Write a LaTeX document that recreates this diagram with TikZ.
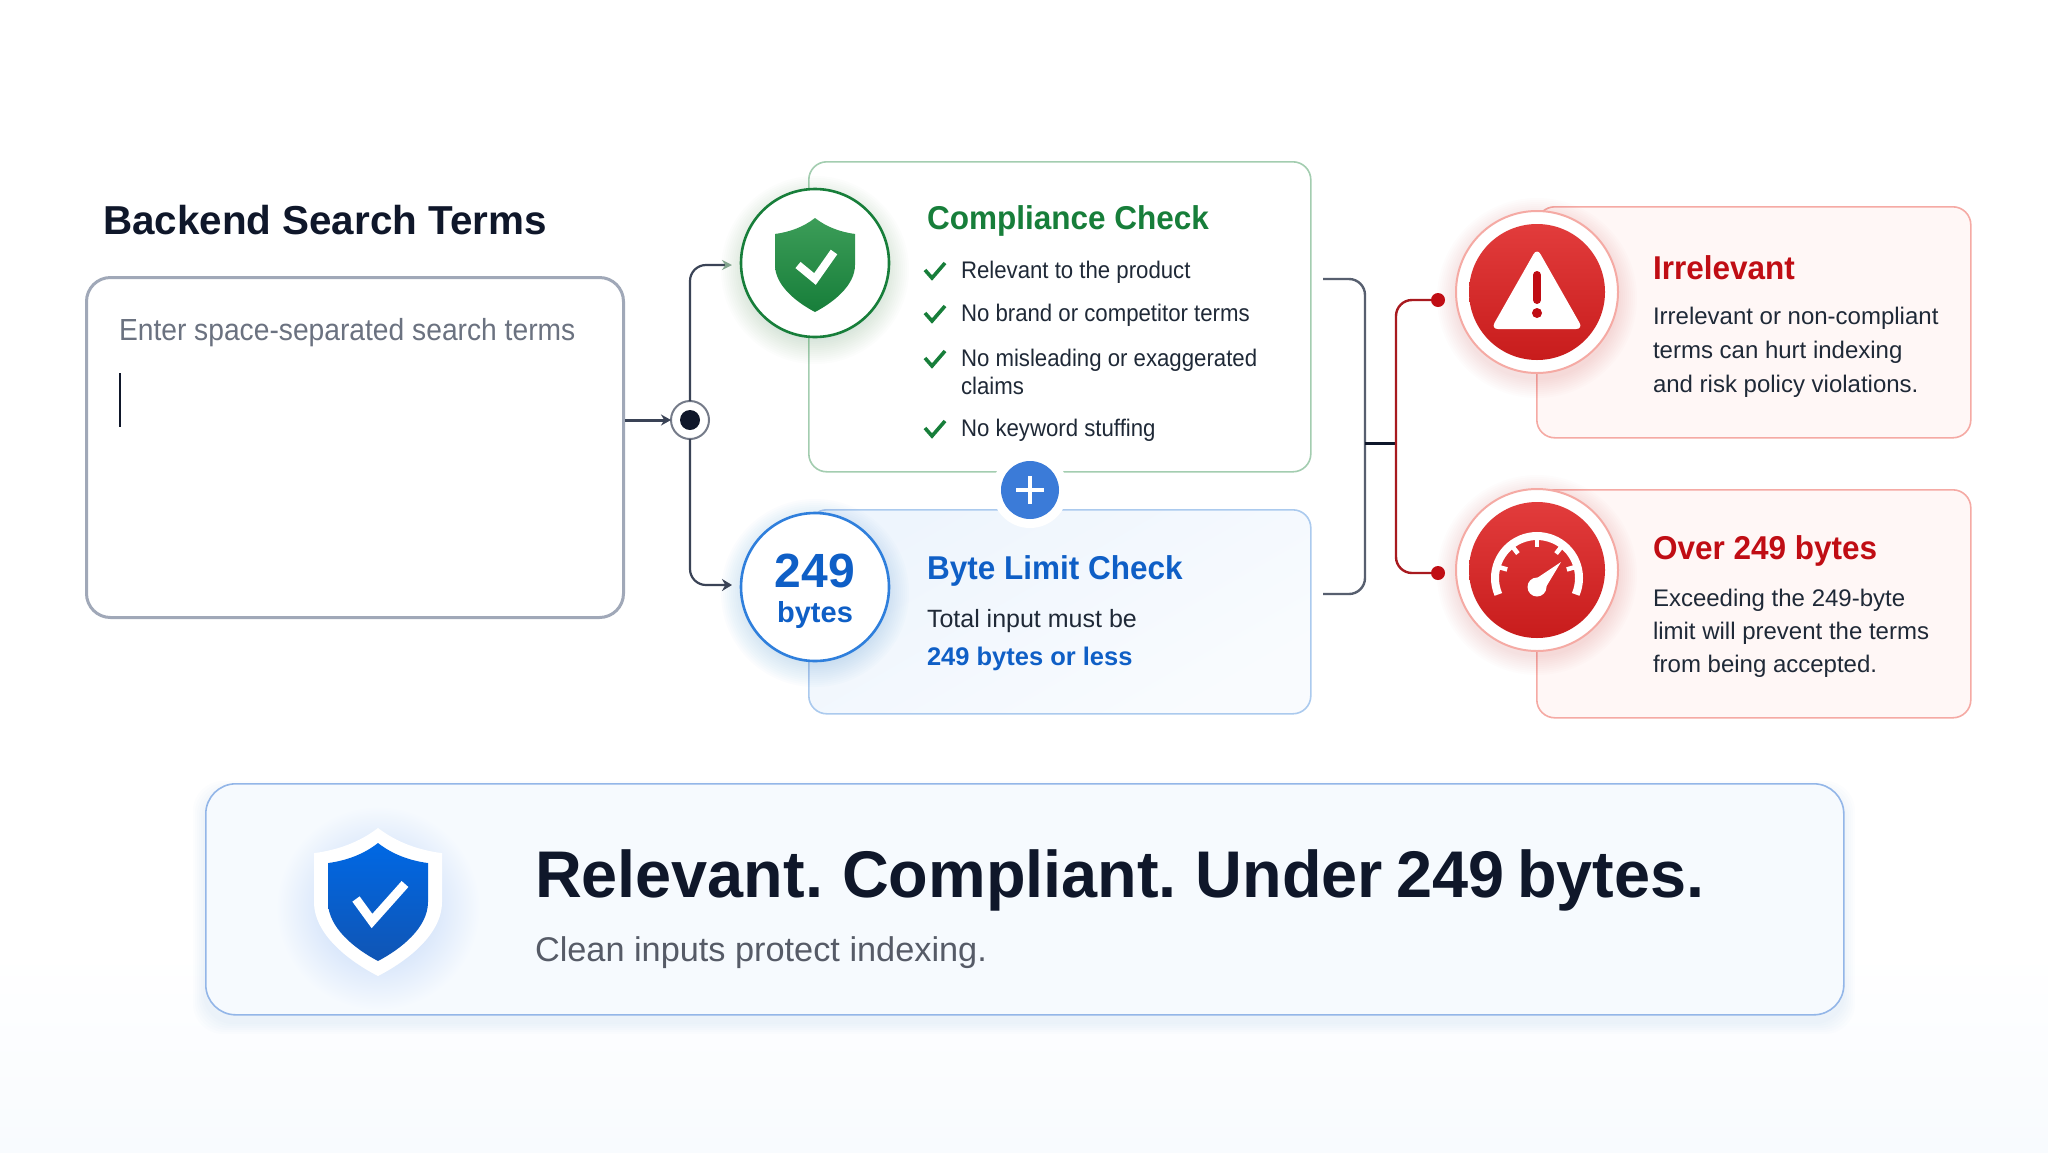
\documentclass[tikz,border=0pt]{standalone}
\usepackage{fontspec}
\setmainfont{Liberation Sans}
\newfontfamily\headfont[FakeStretch=.955]{Liberation Sans}
\newfontfamily\narrowfont[FakeStretch=.925]{Liberation Sans}
\newfontfamily\sloganfont[FakeStretch=.982, WordSpace=.72]{Liberation Sans}
\usetikzlibrary{arrows.meta}

\definecolor{inkdark}{HTML}{0F172A}
\definecolor{inputgray}{HTML}{A0A8B8}
\definecolor{hintgray}{HTML}{6B7280}
\definecolor{wiregray}{HTML}{3A4356}
\definecolor{bodyink}{HTML}{1F2937}
\definecolor{okgreen}{HTML}{177E3A}
\definecolor{okline}{HTML}{A3CDB0}
\definecolor{okfill}{HTML}{3C9D58}
\definecolor{limitblue}{HTML}{0F5FC6}
\definecolor{limitline}{HTML}{ABCAEE}
\definecolor{limitfill}{HTML}{EEF5FD}
\definecolor{ringblue}{HTML}{2F7FDC}
\definecolor{plusblue}{HTML}{3B7BD8}
\definecolor{errred}{HTML}{C00D14}
\definecolor{errline}{HTML}{F5AAA4}
\definecolor{errfill}{HTML}{FFF7F6}
\definecolor{errtop}{HTML}{E23C3C}
\definecolor{errbot}{HTML}{C81C1C}
\definecolor{wirered}{HTML}{A81A1F}
\definecolor{bannerline}{HTML}{93B6E8}
\definecolor{bannerfill}{HTML}{F6FAFE}
\definecolor{bannerglow}{HTML}{B9D1F7}
\definecolor{floorfill}{HTML}{F8FBFE}
\definecolor{shieldtop}{HTML}{0068E4}
\definecolor{shieldbot}{HTML}{1055B4}

\tikzset{
    lbl/.style={anchor=base west, inner sep=0pt, outer sep=0pt},
    bodytxt/.style={lbl, font=\fontsize{24}{24}\selectfont, text=bodyink},
    listtxt/.style={lbl, font=\fontsize{24}{24}\narrowfont, text=bodyink},
    cardhead/.style={lbl, font=\fontsize{33}{33}\headfont\bfseries},
    card/.style={anchor=north west, draw, line width=1.6pt, rounded corners=18pt, inner sep=0pt},
    tickmark/.style={okgreen, line width=3.6pt, line join=miter},
    whitetick/.style={white, line width=8pt, line join=miter},
    wire/.style={wiregray, line width=2.2pt, rounded corners=16pt},
    redwire/.style={wirered, line width=2.4pt, rounded corners=16pt},
    disc/.style={circle, inner sep=0pt, outer sep=0pt, fill=white},
    gaugeline/.style={white, line width=8pt}
}

% shield outline, top point at origin, half width 1, height 1
\def\shieldpath{(0,0) .. controls (-.3,.1) and (-.65,.15) .. (-1,.17) -- (-1,.5)
    .. controls (-1,.72) and (-.45,.9) .. (0,1) .. controls (.45,.9) and (1,.72) .. (1,.5)
    -- (1,.17) .. controls (.65,.15) and (.3,.1) .. (0,0) -- cycle}
\newcommand{\softglow}[5]{\foreach \d in {2,4,...,#3} \fill[#4, opacity=#5] (#1) circle ({#2+\d});}

\begin{document}
\begin{tikzpicture}[x=1pt, y=-1pt, >=stealth]
    \useasboundingbox (0,0) rectangle (2048,1152);
    \fill[white] (0,0) rectangle (2048,1152);
    \shade[top color=white, bottom color=floorfill] (0,950) rectangle (2048,1152);

    % input box
    \node[lbl, font=\fontsize{40.4}{40}\selectfont\bfseries, text=inkdark] (title) at (103,234) {Backend Search Terms};
    \node[card, draw=inputgray, line width=3pt, rounded corners=24pt, fill=white, minimum width=537pt, minimum height=340pt] (inputbox) at (85,276) {};
    \node[lbl, font=\fontsize{30.5}{30.5}\narrowfont, text=hintgray] (hint) at (119,340) {Enter space-separated search terms};
    \coordinate (cursortop) at (120,373);
    \coordinate (cursorend) at (120,427);
    \draw[inkdark, line width=1.6pt] (cursortop) -- (cursorend);

    % compliance card
    \node[card, draw=okline, fill=white, minimum width=502pt, minimum height=310pt] (compcard) at (808,161) {};
    \softglow{815,270}{68}{26}{okgreen}{.012}
    \node[disc, draw=okgreen, line width=2.6pt, minimum size=148pt] (compdisc) at (815,263) {};
    \begin{scope}[shift={(815,218)}, x=40pt, y=-94pt]
        \shade[top color=okfill, bottom color=okgreen] \shieldpath;
    \end{scope}
    \coordinate (oka) at (798,265);
    \coordinate (okb) at (815,279);
    \coordinate (okc) at (834,252);
    \draw[whitetick] (oka) -- (okb) -- (okc);
    \node[cardhead, text=okgreen] (comphead) at (927,229) {Compliance Check};
    \foreach \rowy/\rowtxt in {278/Relevant to the product, 321/No brand or competitor terms, 366/No misleading or exaggerated, 436/No keyword stuffing} {
        \draw[tickmark] (925,\rowy-8) -- (932,\rowy) -- (945,\rowy-15);
        \node[listtxt] at (961,\rowy) {\rowtxt};
    }
    \node[listtxt] (claims) at (961,394) {claims};

    % byte card
    \node[card, draw=limitline, left color=limitfill, right color=limitfill!35!white, shading angle=30, minimum width=502pt, minimum height=204pt] (bytecard) at (808,509) {};
    \softglow{815,593}{68}{26}{ringblue}{.016}
    \node[disc, draw=ringblue, line width=2.6pt, minimum size=148pt] (bytedisc) at (815,587) {};
    \node[anchor=base, inner sep=0pt, font=\fontsize{48}{48}\selectfont\bfseries, text=limitblue] (bignum) at (815,587) {249};
    \node[anchor=base, inner sep=0pt, font=\fontsize{29}{29}\selectfont\bfseries, text=limitblue] (bignumunit) at (815,622) {bytes};
    \node[cardhead, text=limitblue] (bytehead) at (927,579) {Byte Limit Check};
    \node[lbl, font=\fontsize{25}{25}\selectfont, text=bodyink] (byteline) at (927,627) {Total input must be};
    \node[lbl, font=\fontsize{25.5}{25.5}\selectfont\bfseries, text=limitblue] (bytebold) at (927,665) {249 bytes or less};

    % plus
    \node[disc, minimum size=76pt] (plushalo) at (1030,490) {};
    \node[disc, fill=plusblue, minimum size=58pt] (plusbtn) at (1030,490) {};
    \draw[white, line width=4pt] (plusbtn.center) ++(-14,0) -- ++(28,0);
    \draw[white, line width=4pt] (plusbtn.center) ++(0,-14) -- ++(0,28);

    % junction and wires
    \node[disc, draw=wiregray!70!white, line width=2pt, minimum size=38pt] (junction) at (690,420) {};
    \fill[inkdark] (junction) circle (10);
    \coordinate (compin) at (732,265);
    \coordinate (bytein) at (732,585);
    \draw[wire, line width=3pt, -{Stealth[length=10pt, width=11pt]}] (inputbox.east |- junction) -- (junction.west);
    \draw[wire, -{Stealth[length=10pt, width=10pt, color=okline!80!black]}] (junction.north) |- (compin);
    \draw[wire, -{Stealth[length=10pt, width=12pt]}] (junction.south) |- (bytein);

    % bracket
    \coordinate (brtop) at (1323,279);
    \coordinate (brbot) at (1323,594);
    \coordinate (brmid) at (1365,443);
    \coordinate (spine) at (1396,443);
    \draw[wire, wiregray!85!white, line width=2.4pt] (brtop) -| (brmid |- brbot) -- (brbot);
    \draw[wire, inkdark, line width=3pt] (brmid) -- (spine);

    % irrelevant card
    \node[card, draw=errline, fill=errfill, minimum width=434pt, minimum height=231pt] (badcard) at (1536,206) {};
    \softglow{1537,298}{80}{20}{errred}{.01}
    \node[disc, draw=errline, line width=2pt, minimum size=162pt] (baddisc) at (1537,292) {};
    \node[disc, top color=errtop, bottom color=errbot, minimum size=136pt] (badcore) at (1537,292) {};
    \fill[white, rounded corners=7pt] (1537,248) -- (1583,329) -- (1491,329) -- cycle;
    \draw[errred, line width=8pt, line cap=round] (1537,275) -- (1537,300);
    \fill[errred] (1537,313) circle (5);
    \node[cardhead, text=errred] (badhead) at (1653,279) {Irrelevant};
    \node[bodytxt] (badone) at (1653,324) {Irrelevant or non-compliant};
    \node[bodytxt] (badtwo) at (1653,358) {terms can hurt indexing};
    \node[bodytxt] (badthree) at (1653,392) {and risk policy violations.};

    % over limit card
    \node[card, draw=errline, fill=errfill, minimum width=434pt, minimum height=228pt] (overcard) at (1536,489) {};
    \softglow{1537,575}{80}{20}{errred}{.01}
    \node[disc, draw=errline, line width=2pt, minimum size=162pt] (overdisc) at (1537,570) {};
    \node[disc, top color=errtop, bottom color=errbot, minimum size=136pt] (overcore) at (1537,570) {};
    \begin{scope}[shift={(1537,578)}, x=1pt, y=1pt]
        \draw[gaugeline] (203:42) arc (203:-23:42);
        \foreach \a in {164,128,90,52,16} \draw[white, line width=4.5pt] (\a:42) -- (\a:31);
        \fill[white] (-6,-4) -- (24,16) -- (6,-14) -- cycle;
        \fill[white] (0,-9) circle (9.5);
    \end{scope}
    \node[cardhead, text=errred] (overhead) at (1653,559) {Over 249 bytes};
    \node[bodytxt] (overone) at (1653,606) {Exceeding the 249-byte};
    \node[bodytxt] (overtwo) at (1653,639) {limit will prevent the terms};
    \node[bodytxt] (overthree) at (1653,672) {from being accepted.};

    % red wires
    \node[disc, fill=errred, minimum size=14pt] (baddot) at (1438,300) {};
    \node[disc, fill=errred, minimum size=14pt] (overdot) at (1438,573) {};
    \draw[redwire] (baddot) -| (spine) |- (overdot);

    % banner
    \foreach \d in {2,4,...,12} \fill[ringblue, opacity=.01, rounded corners=30pt] (205-\d,783-\d+10) rectangle (1843+\d,1014+\d+8);
    \node[card, draw=bannerline, fill=bannerfill, rounded corners=30pt, minimum width=1638pt, minimum height=231pt] (banner) at (205,783) {};
    \shade[inner color=bannerglow, outer color=bannerfill] (378,908) circle (102);
    \begin{scope}[shift={(378,828)}, x=64pt, y=-148pt]
        \fill[white] \shieldpath;
    \end{scope}
    \begin{scope}[shift={(378,843)}, x=50pt, y=-118pt]
        \shade[top color=shieldtop, bottom color=shieldbot] \shieldpath;
    \end{scope}
    \coordinate (shieldok) at (372,921);
    \coordinate (shieldleft) at (356,899);
    \coordinate (shieldright) at (405,884);
    \draw[white, line width=9pt] (shieldleft) -- (shieldok) -- (shieldright);
    \node[lbl, font=\fontsize{66}{66}\sloganfont\bfseries, text=inkdark] (slogan) at (535,897) {Relevant. Compliant. Under 249 bytes.};
    \node[lbl, font=\fontsize{34.3}{34}\selectfont, text=hintgray!80!black] (subslogan) at (535,961) {Clean inputs protect indexing.};
\end{tikzpicture}
\end{document}
